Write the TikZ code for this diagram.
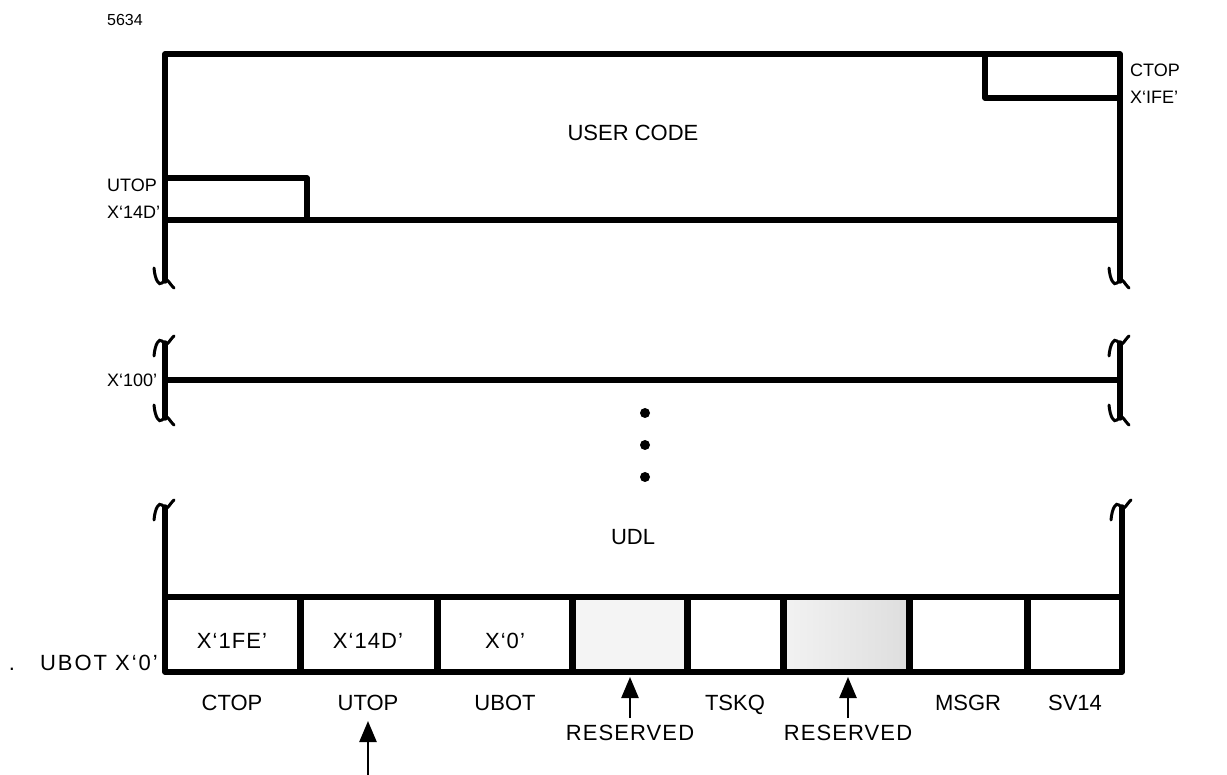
\documentclass[tikz,border=0pt]{standalone}
\usepackage{fontspec}
\setmainfont{Liberation Sans}
\newfontfamily\wideA[LetterSpace=5]{Liberation Sans}
\newfontfamily\wideB[LetterSpace=9]{Liberation Sans}
\usetikzlibrary{arrows.meta}
\begin{document}
\begin{tikzpicture}[x=1pt,y=-1pt,
  wall/.style={line width=5.5pt, line cap=round, line join=round},
  sep/.style={line width=7pt},
  brkline/.style={line width=3pt, line cap=round},
  lbl/.style={font=\fontsize{22}{24}\selectfont, inner sep=0pt, anchor=base},
  wlbl/.style={font=\wideA\fontsize{22}{24}\selectfont, inner sep=0pt, anchor=base},
  side/.style={font=\fontsize{18}{20}\selectfont, inner sep=0pt},
  sml/.style={font=\fontsize{16}{18}\selectfont, inner sep=0pt},
  ptr/.style={line width=2.5pt, -{Triangle[width=17pt,length=21pt]}},
  brk/.pic={\draw[brkline] (-11,-15) .. controls (-10,-3) and (-6,3) .. (-3,0)
      .. controls (0,-3) and (2,-4) .. (4,-1) .. controls (6,2) and (8,4) .. (9,5);}
]
\useasboundingbox (0,0) rectangle (1227,775);

% ---- top section (user code)
\draw[wall] (165,281) -- (165,54) -- (1120,54) -- (1120,281);
\draw[wall] (165,220) -- (1120,220);
\draw[wall] (165,178) -- (307,178) -- (307,220);
\draw[wall] (985,54) -- (985,98) -- (1120,98);
\pic at (165,283) {brk};
\pic at (1120,283) {brk};

% ---- middle section
\draw[wall] (165,343) -- (165,418);
\draw[wall] (1120,343) -- (1120,418);
\draw[wall] (165,380) -- (1120,380);
\pic[yscale=-1] at (165,341) {brk};
\pic[yscale=-1] at (1120,341) {brk};
\pic at (165,420) {brk};
\pic at (1120,420) {brk};

\fill (645,413) circle (5);
\fill (645,445) circle (5);
\fill (645,477) circle (5);

% ---- lower section (UDL)
\fill[gray!9] (572,597) rectangle (687,672);
\shade[left color=gray!10, right color=gray!26] (783,597) rectangle (909,672);
\draw[wall] (165,507) -- (165,672) -- (1122,672) -- (1122,507);
\pic[yscale=-1] at (165,505) {brk};
\pic[yscale=-1] at (1122,505) {brk};
\draw[wall] (165,597) -- (1122,597);
\foreach \xx in {300,437,572,687,783,909,1027}
  \draw[sep] (\xx,597) -- (\xx,672);

% ---- texts
\node[sml] (num) at (125,20) {5634};
\node[lbl] (usercode) at (633,141) {USER CODE};
\node[side, anchor=west] (utopl) at (107,185) {UTOP};
\node[side, anchor=west] (utopv) at (107,212) {X‘14D’};
\node[side, anchor=west] (ctopl) at (1130,70) {CTOP};
\node[side, anchor=west] (ctopv) at (1130,97) {X‘IFE’};
\node[side, anchor=west] (x100) at (107,380) {X‘100’};
\node[lbl] (udl) at (633,544) {UDL};
\node[lbl] (dot) at (12,670) {.};
\node[lbl, font=\wideB\fontsize{22}{24}\selectfont, anchor=base east] (ubot) at (158,670) {UBOT X‘0’};

\node[wlbl] (c1) at (232,648) {X‘1FE’};
\node[wlbl] (c2) at (368,648) {X‘14D’};
\node[wlbl] (c3) at (505,648) {X‘0’};

\node[lbl] (n1) at (232,710) {CTOP};
\node[lbl] (n2) at (368,710) {UTOP};
\node[lbl] (n3) at (505,710) {UBOT};
\node[lbl] (n5) at (735,710) {TSKQ};
\node[lbl] (n7) at (968,710) {MSGR};
\node[lbl] (n8) at (1075,710) {SV14};
\node[wlbl] (r1) at (630,740) {RESERVED};
\node[wlbl] (r2) at (848,740) {RESERVED};

\coordinate (a0) at (368,775);
\coordinate (a0t) at (368,721);
\draw[ptr] (a0) -- (a0t);
\coordinate (a1) at (630,718);
\coordinate (a1t) at (630,677);
\draw[ptr] (a1) -- (a1t);
\coordinate (a2) at (848,718);
\coordinate (a2t) at (848,677);
\draw[ptr] (a2) -- (a2t);
\end{tikzpicture}
\end{document}
